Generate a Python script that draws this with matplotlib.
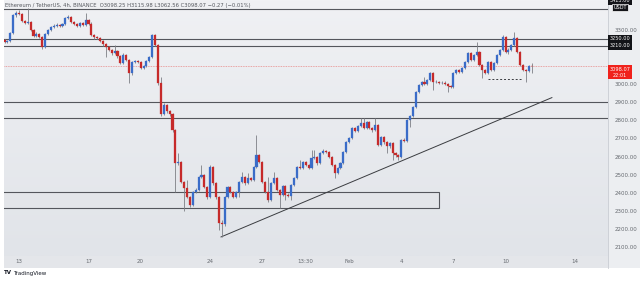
import matplotlib.pyplot as plt
import matplotlib.dates as mdates
import numpy as np
import pandas as pd

# ETH/USDT 4h candles, 12 Jan 2022 04:00 onwards
start_time = "2022-01-12 04:00"
first_open = 3240

closes = [
    3232, 3237, 3281, 3380, 3391, 3386, 3347, 3336, 3342, 3298,
    3265, 3276, 3259, 3204, 3276, 3298, 3314, 3320, 3325, 3320,
    3331, 3364, 3369, 3342, 3331, 3320, 3336, 3325, 3353, 3331,
    3270, 3259, 3254, 3237, 3221, 3204, 3187, 3171, 3182, 3154,
    3116, 3160, 3132, 3061, 3121, 3127, 3121, 3088, 3099, 3127,
    3149, 3270, 3215, 3006, 2835, 2884, 2851, 2835, 2746, 2564,
    2570, 2460, 2427, 2377, 2333, 2405, 2416, 2487, 2498, 2432,
    2377, 2542, 2454, 2377, 2234, 2228, 2377, 2432, 2405, 2377,
    2405, 2460, 2487, 2454, 2482, 2471, 2542, 2609, 2570, 2460,
    2405, 2360, 2454, 2482, 2416, 2388, 2438, 2388, 2385, 2443,
    2482, 2542, 2537, 2570, 2553, 2537, 2592, 2598, 2564, 2620,
    2631, 2625, 2598, 2553, 2509, 2537, 2564, 2625, 2680, 2702,
    2757, 2741, 2768, 2785, 2757, 2791, 2757, 2746, 2774, 2664,
    2708, 2680, 2658, 2675, 2620, 2609, 2598, 2691, 2686, 2802,
    2824, 2873, 2956, 2994, 3011, 3000, 3022, 3061, 3011, 3011,
    3006, 3008, 3000, 2989, 2985, 3061, 3077, 3066, 3088, 3121,
    3171, 3132, 3160, 3176, 3105, 3077, 3061, 3121, 3077, 3116,
    3160, 3187, 3259, 3176, 3190, 3215, 3254, 3176, 3105, 3077,
    3072, 3098.25, 3098.07,
]

highs = [
    3248, 3245, 3286, 3386, 3400, 3408, 3392, 3352, 3420, 3348,
    3302, 3284, 3282, 3264, 3280, 3305, 3320, 3328, 3334, 3332,
    3338, 3372, 3380, 3374, 3348, 3338, 3342, 3342, 3391, 3360,
    3340, 3276, 3266, 3260, 3242, 3228, 3210, 3194, 3215, 3188,
    3160, 3170, 3166, 3138, 3128, 3134, 3132, 3126, 3106, 3132,
    3155, 3276, 3274, 3220, 3039, 2895, 2890, 2858, 2842, 2752,
    2620, 2576, 2466, 2471, 2384, 2412, 2425, 2494, 2553, 2504,
    2438, 2553, 2548, 2460, 2384, 2250, 2384, 2440, 2438, 2412,
    2410, 2466, 2515, 2492, 2509, 2488, 2548, 2719, 2616, 2576,
    2466, 2487, 2460, 2515, 2488, 2422, 2444, 2444, 2398, 2450,
    2488, 2548, 2581, 2576, 2578, 2560, 2636, 2636, 2604, 2626,
    2640, 2638, 2630, 2604, 2560, 2542, 2570, 2630, 2686, 2708,
    2763, 2764, 2775, 2813, 2813, 2798, 2797, 2764, 2813, 2780,
    2714, 2714, 2686, 2682, 2680, 2626, 2614, 2697, 2700, 2808,
    2830, 2880, 2962, 3000, 3018, 3039, 3028, 3068, 3066, 3020,
    3016, 3016, 3014, 3006, 2996, 3066, 3084, 3082, 3094, 3128,
    3178, 3176, 3166, 3232, 3182, 3110, 3082, 3127, 3126, 3122,
    3166, 3194, 3270, 3265, 3196, 3222, 3287, 3260, 3182, 3110,
    3084, 3104, 3115.98,
]

lows = [
    3225, 3226, 3233, 3276, 3372, 3378, 3340, 3328, 3330, 3292,
    3258, 3260, 3252, 3193, 3198, 3270, 3292, 3308, 3314, 3312,
    3314, 3326, 3356, 3336, 3324, 3312, 3314, 3318, 3320, 3326,
    3264, 3250, 3246, 3230, 3212, 3149, 3180, 3162, 3165, 3146,
    3108, 3110, 3125, 3006, 3050, 3115, 3114, 3080, 3082, 3094,
    3120, 3143, 3208, 2995, 2826, 2828, 2842, 2826, 2735, 2405,
    2555, 2452, 2300, 2370, 2322, 2326, 2398, 2410, 2480, 2425,
    2368, 2370, 2446, 2368, 2195, 2157, 2215, 2370, 2398, 2370,
    2370, 2377, 2454, 2446, 2448, 2464, 2465, 2536, 2562, 2452,
    2398, 2352, 2355, 2448, 2410, 2317, 2382, 2360, 2378, 2360,
    2436, 2476, 2530, 2530, 2546, 2530, 2530, 2586, 2556, 2558,
    2614, 2618, 2590, 2546, 2482, 2502, 2530, 2558, 2618, 2674,
    2696, 2734, 2735, 2762, 2750, 2750, 2750, 2738, 2740, 2656,
    2658, 2672, 2620, 2650, 2581, 2600, 2581, 2592, 2678, 2680,
    2763, 2818, 2866, 2950, 2988, 2994, 2994, 3016, 2967, 3004,
    3000, 2998, 2994, 2956, 2978, 2980, 3055, 3060, 3060, 3082,
    3115, 3125, 3126, 3154, 3098, 3033, 3054, 3055, 3070, 3070,
    3110, 3154, 3182, 3170, 3168, 3184, 3208, 3170, 3098, 3070,
    3011, 3066, 3062.56,
]

# horizontal levels drawn on the chart
levels = [3413, 3250, 3210, 2900, 2815]
level_labels = ["3250.00", "3210.00", "3413.00"]
price_ticks = [2100, 2200, 2300, 2400, 2500, 2600, 2700, 2800, 2900, 3000, 3300]
date_ticks = ["2022-01-13 00:00", "2022-01-17 00:00", "2022-01-20 00:00",
              "2022-01-24 00:00", "2022-01-27 00:00", "2022-01-29 12:00",
              "2022-02-01 00:00", "2022-02-04 00:00", "2022-02-07 00:00",
              "2022-02-10 00:00", "2022-02-14 00:00"]
date_labels = ["13", "17", "20", "24", "27", "13:30", "Feb", "4", "7", "10", "14"]

# support box, trend line and dashed low line
box_start, box_end = "2022-01-12 00:00", "2022-02-06 04:00"
box_low, box_high = 2316, 2405
trend_times = ["2022-01-24 15:00", "2022-02-12 16:00"]
trend_prices = [2157, 2925]
dash_times = ["2022-02-09 00:00", "2022-02-10 23:00"]
dash_price = 3026
last_price = 3098.07

UP = "#3a6cc8"
DOWN = "#c62a2a"
WICK = "#7d7f85"
LINE = "#54565c"


def num(t):
    return mdates.date2num(pd.to_datetime(t, format="%Y-%m-%d %H:%M"))


times = pd.date_range(start_time, periods=len(closes), freq="4h")
x = mdates.date2num(times)
opens = [first_open] + closes[:-1]

fig = plt.figure(figsize=(6.4, 2.82), dpi=100)
fig.patch.set_facecolor("white")

# main pane: x 4..608 px, y 0..256 px
ax = fig.add_axes([4 / 640, 26 / 282, 604 / 640, 256 / 282])
ymin, ymax = 2052, 3463
xmin = num("2022-01-12 03:15")
xmax = num("2022-02-15 21:30")
ax.set_xlim(xmin, xmax)
ax.set_ylim(ymin, ymax)

grad = np.linspace(0, 1, 100).reshape(-1, 1)
ax.imshow(grad, extent=[xmin, xmax, ymin, ymax], aspect="auto",
          cmap=plt.matplotlib.colors.LinearSegmentedColormap.from_list(
              "bg", ["#f0f1f4", "#e1e4e9"]), zorder=0)

# box
bx0, bx1 = num(box_start), num(box_end)
ax.add_patch(plt.Rectangle((bx0, box_low), bx1 - bx0, box_high - box_low,
                           facecolor="#e3e5e9", edgecolor=LINE, lw=0.8, zorder=1))

for lv in levels:
    ax.axhline(lv, color=LINE, lw=0.8, zorder=1)
ax.axhline(last_price, color="#e88a8a", lw=0.6, ls=(0, (1, 1)), zorder=1)

ax.plot(num(trend_times), trend_prices, color="#3a3c40", lw=0.7, zorder=2)
ax.plot(num(dash_times), [dash_price, dash_price], color="#3a3c40", lw=0.7,
        ls=(0, (2, 2)), zorder=2)

# candles
w = 0.12
for xi, o, h, l, c in zip(x, opens, highs, lows, closes):
    col = UP if c >= o else DOWN
    ax.vlines(xi, l, h, color=WICK, lw=0.6, zorder=3)
    ax.bar(xi, max(abs(c - o), 1.5), bottom=min(o, c), width=w, color=col,
           edgecolor=col, lw=0.2, zorder=4)

ax.set_xticks(num(date_ticks))
ax.set_xticklabels(date_labels)
ax.tick_params(axis="x", length=0, pad=2.5, labelsize=4, colors="#666a70")
ax.yaxis.tick_right()
ax.set_yticks(price_ticks)
ax.set_yticklabels([f"{p:.2f}" for p in price_ticks])
ax.tick_params(axis="y", length=0, pad=5, labelsize=4, colors="#666a70")
for s in ax.spines.values():
    s.set_visible(False)

ax.text(0.002, 0.988, "Ethereum / TetherUS, 4h, BINANCE  O3098.25 H3115.98 L3062.56 "
        "C3098.07 \u22120.27 (\u22120.01%)", transform=ax.transAxes, fontsize=3.8,
        color="#55585e", va="top", ha="left", zorder=6)

# price axis panel and time axis strip
fig.patches.append(plt.Rectangle((608 / 640, 14 / 282), 32 / 640, 268 / 282,
                                 transform=fig.transFigure, facecolor="#eceef1",
                                 edgecolor="none", zorder=-1))
fig.patches.append(plt.Rectangle((4 / 640, 14 / 282), 604 / 640, 12 / 282,
                                 transform=fig.transFigure, facecolor="#e4e6ea",
                                 edgecolor="none", zorder=-1))
fig.add_artist(plt.Line2D([608 / 640, 608 / 640], [14 / 282, 1], color="#c9ccd2", lw=0.6))


def fig_y(price):
    return (26 + (price - ymin) / (ymax - ymin) * 256) / 282


def price_box(yf, text, face, edge="none"):
    fig.text(620 / 640, yf, text, ha="center", va="center", fontsize=3.6, color="white",
             bbox=dict(boxstyle="square,pad=0.25", facecolor=face, edgecolor=edge, lw=0.5))


price_box(fig_y(3250), level_labels[0], "#131418")
price_box(fig_y(3210), level_labels[1], "#131418")
price_box(1 - 1 / 282, level_labels[2], "#131418")
price_box(1 - 7.5 / 282, "USDT", "#131418", "white")
fig.text(620 / 640, fig_y(last_price) - 0.021,
         f"{last_price:.2f}\n22:01", ha="center", va="center", fontsize=3.6,
         color="white", linespacing=1.3,
         bbox=dict(boxstyle="square,pad=0.3", facecolor="#f0221c", edgecolor="none"))

fig.text(4 / 640, 1 - 273 / 282, "TV", fontsize=4, color="#131722", va="center",
         fontweight="bold")
fig.text(13 / 640, 1 - 273 / 282, "TradingView", fontsize=4, color="#131722", va="center")

fig.savefig("out.png", dpi=100, facecolor="white")
